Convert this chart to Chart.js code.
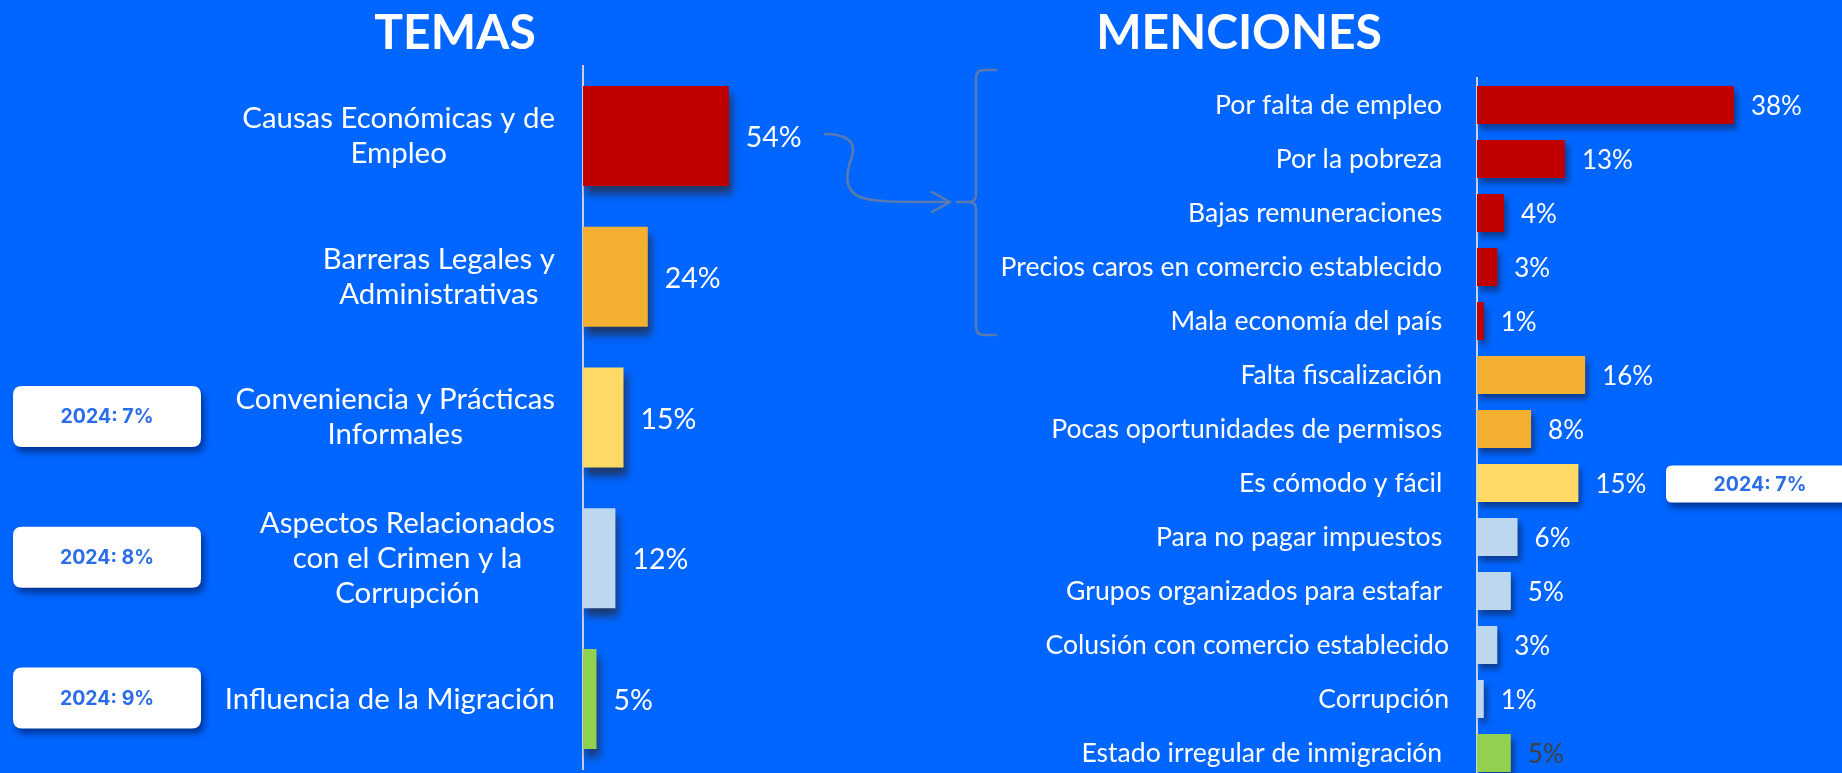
<!DOCTYPE html>
<html><head><meta charset="utf-8">
<script src="https://cdn.jsdelivr.net/npm/chart.js@4.4.1/dist/chart.umd.min.js"></script>
<style>
html,body{margin:0;padding:0;background:#0066FF;overflow:hidden;width:1842px;height:773px;position:relative;}
canvas{position:absolute;left:0;top:0;}
.title{position:absolute;top:-1px;width:600px;height:63px;line-height:63px;text-align:center;color:#fff;font-family:Lato,sans-serif;font-weight:bold;font-size:48px;z-index:5;}
</style>
</head><body>
<div class="title" style="left:155px">TEMAS</div>
<div class="title" style="left:939px">MENCIONES</div>
<canvas id="c1" width="1842" height="800"></canvas>
<canvas id="c2" width="1842" height="800"></canvas>
<script>
// ---------- DATA ----------
const temasLabels = [
  ["Causas Económicas y de", "Empleo"],
  ["Barreras Legales y", "Administrativas"],
  ["Conveniencia y Prácticas", "Informales"],
  ["Aspectos Relacionados", "con el Crimen y la", "Corrupción"],
  ["Influencia de la Migración"]
];
const temasValues = [54, 24, 15, 12, 5];
const temas2024 = [null, null, 7, 8, 9];

const mencionesLabels = [
  "Por falta de empleo ",
  "Por la pobreza ",
  "Bajas remuneraciones ",
  "Precios caros en comercio establecido ",
  "Mala economía del país ",
  "Falta fiscalización ",
  "Pocas oportunidades de permisos ",
  "Es cómodo y fácil ",
  "Para no pagar impuestos ",
  "Grupos organizados para estafar ",
  "Colusión con comercio establecido",
  "Corrupción",
  "Estado irregular de inmigración "
];
const mencionesValues = [38, 13, 4, 3, 1, 16, 8, 15, 6, 5, 3, 1, 5];
const mencionesTema = [0, 0, 0, 0, 0, 1, 1, 2, 3, 3, 3, 3, 4];
const menciones2024 = [null, null, null, null, null, null, null, 7, null, null, null, null, null];

const temaColors = ['#C00000', '#F3AF30', '#FFD966', '#BDD7EE', '#92D050'];
const mencionesLabelColors = mencionesTema.map((t, i) => i === 12 ? '#404040' : '#FFFFFF');

// ---------- helpers ----------
function roundRect(ctx, x, y, w, h, r) {
  ctx.beginPath();
  ctx.moveTo(x + r, y);
  ctx.lineTo(x + w - r, y);
  ctx.quadraticCurveTo(x + w, y, x + w, y + r);
  ctx.lineTo(x + w, y + h - r);
  ctx.quadraticCurveTo(x + w, y + h, x + w - r, y + h);
  ctx.lineTo(x + r, y + h);
  ctx.quadraticCurveTo(x, y + h, x, y + h - r);
  ctx.lineTo(x, y + r);
  ctx.quadraticCurveTo(x, y, x + r, y);
  ctx.closePath();
}
function drawBox(ctx, x, yc, w, h, r, text) {
  ctx.save();
  ctx.shadowColor = 'rgba(0,10,60,0.55)';
  ctx.shadowOffsetX = 3; ctx.shadowOffsetY = 5; ctx.shadowBlur = 7;
  ctx.fillStyle = '#FFFFFF';
  roundRect(ctx, x, yc - h / 2, w, h, r);
  ctx.fill();
  ctx.restore();
  ctx.save();
  ctx.fillStyle = '#2B6DE8';
  ctx.font = 'bold 19.5px Inter, "Noto Sans", sans-serif';
  ctx.textAlign = 'center';
  ctx.textBaseline = 'middle';
  ctx.fillText(text, x + w / 2, yc + 1);
  ctx.restore();
}

function barPlugin(opts) {
  return {
    id: 'bars_' + opts.id,
    beforeDatasetsDraw(chart) {
      const ctx = chart.ctx;
      ctx.save();
      ctx.shadowColor = opts.shadowColor;
      ctx.shadowOffsetX = opts.sx; ctx.shadowOffsetY = opts.sy; ctx.shadowBlur = opts.blur;
    },
    afterDatasetsDraw(chart) {
      const ctx = chart.ctx;
      ctx.restore();
      const meta = chart.getDatasetMeta(0);
      const vals = chart.data.datasets[0].data;
      ctx.save();
      ctx.font = opts.valueFont;
      ctx.textAlign = 'left';
      ctx.textBaseline = 'middle';
      meta.data.forEach((bar, i) => {
        ctx.fillStyle = opts.valueColors ? opts.valueColors[i] : '#FFFFFF';
        ctx.fillText(vals[i] + '%', bar.x + opts.valueGap, bar.y + 2);
      });
      ctx.restore();
    }
  };
}

// ---------- LEFT CHART (TEMAS) ----------
const temasLabelPlugin = {
  id: 'temasLabels',
  afterDraw(chart) {
    const ctx = chart.ctx;
    const ys = chart.scales.y;
    ctx.save();
    ctx.font = '29.4px Lato, sans-serif';
    ctx.fillStyle = '#FFFFFF';
    ctx.textAlign = 'center';
    ctx.textBaseline = 'middle';
    const rightEdge = ys.right - 28;
    const lh = 35;
    temasLabels.forEach((lines, i) => {
      const yc = ys.getPixelForValue(i);
      const bw = Math.max(...lines.map(l => ctx.measureText(l).width));
      const cx = rightEdge - bw / 2;
      lines.forEach((l, k) => {
        ctx.fillText(l, cx, yc + (k - (lines.length - 1) / 2) * lh);
      });
      if (temas2024[i] != null) {
        drawBox(ctx, 13, yc - 1, 188, 61, 9, '2024: ' + temas2024[i] + '%');
      }
    });
    ctx.restore();
  }
};

new Chart(document.getElementById('c1'), {
  type: 'bar',
  data: {
    labels: temasLabels.map(l => l.join(' ')),
    datasets: [{
      data: temasValues,
      backgroundColor: temaColors,
      borderWidth: 0,
      categoryPercentage: 1,
      barPercentage: 0.7105
    }]
  },
  options: {
    indexAxis: 'y',
    responsive: false,
    animation: false,
    events: [],
    layout: { padding: { left: 583, right: 989, top: 65.6, bottom: 30.6 } },
    plugins: { legend: { display: false }, tooltip: { enabled: false } },
    scales: {
      x: { display: false, min: 0, max: 100 },
      y: {
        position: 'left',
        z: 1,
        grid: { display: false, drawTicks: false },
        border: { display: true, color: '#C9CFDB', width: 2 },
        ticks: { display: false },
        afterFit(s) { s.width = 0; s.paddingTop = 0; s.paddingBottom = 0; }
      }
    }
  },
  plugins: [barPlugin({ id: 't', shadowColor: 'rgba(40,40,60,0.75)', sx: 3, sy: 8, blur: 8, valueFont: '28.5px Lato, sans-serif', valueGap: 17 }), temasLabelPlugin]
});

// ---------- RIGHT CHART (MENCIONES) ----------
const decorPlugin = {
  id: 'decor',
  afterDraw(chart) {
    const ctx = chart.ctx;
    const ys = chart.scales.y;
    // 2024 comparison boxes
    mencionesLabels.forEach((l, i) => {
      if (menciones2024[i] != null) {
        drawBox(ctx, 1666, ys.getPixelForValue(i) + 1, 188, 37, 6, '2024: ' + menciones2024[i] + '%');
      }
    });
    // curly arrow and bracket
    ctx.save();
    ctx.strokeStyle = '#5A7AAE';
    ctx.lineWidth = 2.5;
    ctx.lineCap = 'round';
    ctx.lineJoin = 'round';
    ctx.beginPath();
    ctx.moveTo(825, 134);
    ctx.bezierCurveTo(845, 134, 857, 141, 852, 156);
    ctx.bezierCurveTo(847, 170, 842, 190, 860, 197);
    ctx.bezierCurveTo(872, 202, 895, 202, 950, 202);
    ctx.stroke();
    ctx.beginPath();
    ctx.moveTo(932, 192); ctx.lineTo(950, 202); ctx.lineTo(932, 212);
    ctx.stroke();
    ctx.beginPath();
    ctx.moveTo(996, 70);
    ctx.lineTo(984, 70);
    ctx.quadraticCurveTo(976, 70, 976, 78);
    ctx.lineTo(976, 195);
    ctx.quadraticCurveTo(976, 202, 968, 202);
    ctx.lineTo(957, 202);
    ctx.moveTo(968, 202);
    ctx.quadraticCurveTo(976, 202, 976, 209);
    ctx.lineTo(976, 327);
    ctx.quadraticCurveTo(976, 335, 984, 335);
    ctx.lineTo(996, 335);
    ctx.stroke();
    ctx.restore();
  }
};

new Chart(document.getElementById('c2'), {
  type: 'bar',
  data: {
    labels: mencionesLabels,
    datasets: [{
      data: mencionesValues,
      backgroundColor: mencionesTema.map(t => temaColors[t]),
      borderWidth: 0,
      categoryPercentage: 1,
      barPercentage: 0.704
    }]
  },
  options: {
    indexAxis: 'y',
    responsive: false,
    animation: false,
    events: [],
    layout: { padding: { left: 0, right: 27, top: 78, bottom: 20 } },
    plugins: { legend: { display: false }, tooltip: { enabled: false } },
    scales: {
      x: { display: false, min: 0, max: 50 },
      y: {
        position: 'left',
        z: 1,
        grid: { display: false, drawTicks: false },
        border: { display: true, color: '#C9D3E8', width: 2 },
        ticks: { color: '#FFFFFF', font: { family: 'Lato', size: 26.6 }, padding: 28, autoSkip: false },
        afterFit(s) { s.width = 1477; s.paddingTop = 0; s.paddingBottom = 0; }
      }
    }
  },
  plugins: [barPlugin({ id: 'm', shadowColor: 'rgba(20,30,70,0.6)', sx: 3, sy: 5, blur: 6, valueFont: '26px Lato, sans-serif', valueGap: 17, valueColors: mencionesLabelColors }), decorPlugin]
});
</script>
</body></html>
